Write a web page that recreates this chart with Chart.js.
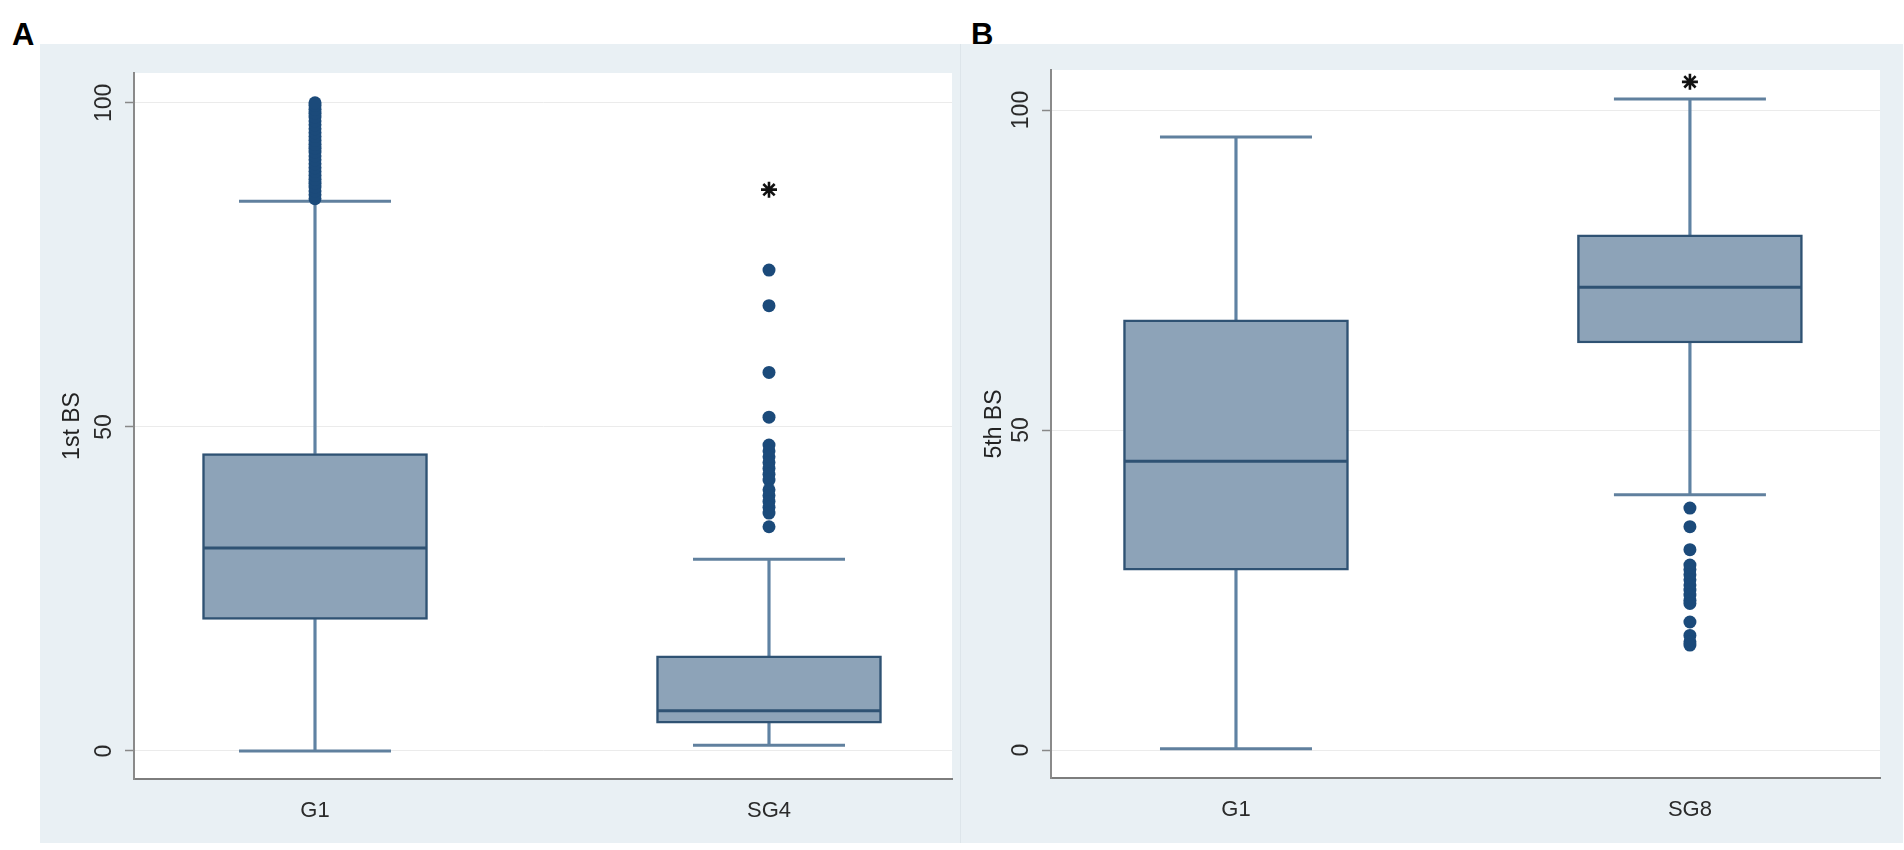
<!DOCTYPE html>
<html>
<head>
<meta charset="utf-8">
<title>1st BS / 5th BS box plots</title>
<script src="https://cdn.jsdelivr.net/npm/chart.js@4.4.1/dist/chart.umd.min.js"></script>
<style>
  html, body { margin: 0; padding: 0; }
  body { background: #fff; width: 1904px; height: 850px; position: relative; overflow: hidden; }
  .panel { position: absolute; top: 44px; height: 799px; background: #e9f0f4; }
  .panel canvas { position: absolute; left: 0; top: 0; display: block; }
  #panelA { left: 40px; width: 920px; }
  #panelB { left: 960px; width: 943px; border-left: 1px solid #dde5ea; box-sizing: border-box; }
  .letter { position: absolute; top: 17px; line-height: 1; font: bold 31px "Liberation Sans", Arial, sans-serif; color: #000; }
</style>
</head>
<body>
<div class="letter" style="left:12px">A</div>
<div class="letter" style="left:971px">B</div>
<div class="panel" id="panelA"><canvas id="chartA" width="920" height="799" style="width:920px;height:799px"></canvas></div>
<div class="panel" id="panelB"><canvas id="chartB" width="942" height="799" style="width:942px;height:799px"></canvas></div>
<script>
// panel A : 1st BS
const catsA = ['G1', 'SG4'];
const minA = [0, 0.9];
const q1A = [20.3, 4.3];
const medA = [31.3, 6.2];
const q3A = [45.9, 14.7];
const maxA = [84.8, 29.6];
const outG1A = [85.2, 85.8, 86.4, 87.0, 87.6, 88.2, 88.8, 89.4, 90.0, 90.6, 91.2, 91.8, 92.4,
  93.0, 93.6, 94.2, 94.8, 95.4, 96.0, 96.6, 97.2, 97.8, 98.4, 99.0, 99.6, 100];
const outSG4A = [74.2, 68.7, 58.4, 51.5, 47.2, 46.3, 45.4, 44.5, 43.6, 42.7, 41.8,
  40.3, 39.4, 38.5, 37.6, 36.7, 34.6];
const farA = [null, 86.6];

// panel B : 5th BS
const catsB = ['G1', 'SG8'];
const minB = [0.2, 39.9];
const q1B = [28.1, 63.6];
const medB = [45.1, 72.3];
const q3B = [67.2, 80.5];
const maxB = [95.8, 101.7];
const outG1B = [];
const outSG8B = [37.8, 34.9, 31.3, 28.9, 28.2, 27.4, 26.6, 25.8, 25.0, 24.2, 23.4, 22.9,
  20.0, 17.9, 16.9, 16.4];
const farB = [null, 104.4];

const yTicks = [0, 50, 100];

const FONT = '"Liberation Sans", Arial, sans-serif';
const boxFill = '#8da3b8';
const boxEdge = '#2f5273';
const whiskerCol = '#5f82a3';
const capCol = '#60809e';
const dotCol = '#1b4a7a';

const plotBg = {
  id: 'plotBg',
  beforeDraw(chart) {
    const { ctx, chartArea: a } = chart;
    ctx.save();
    ctx.fillStyle = '#fff';
    ctx.fillRect(a.left, a.top, a.right - a.left, a.bottom - a.top);
    ctx.restore();
  }
};

function pts(vals) {
  return vals.map((v, i) => ({ x: i + 1, y: v })).filter(p => p.y !== null);
}

function makeChart(id, cats, mins, q1s, meds, q3s, maxs, outs, fars, yTitle, lay) {
  const outliers = [];
  outs.forEach((list, i) => list.forEach(v => outliers.push({ x: i + 1, y: v })));

  new Chart(document.getElementById(id), {
    type: 'bar',
    data: {
      datasets: [
        { type: 'scatter', data: pts(fars), pointStyle: 'star', pointRadius: 8,
          borderColor: '#111', borderWidth: 2.6, order: 1 },
        { type: 'scatter', data: outliers, pointStyle: 'circle', pointRadius: 6.5,
          backgroundColor: dotCol, borderColor: dotCol, borderWidth: 0, order: 1 },
        { type: 'scatter', data: pts(meds), pointStyle: 'line', pointRadius: 112,
          borderColor: boxEdge, borderWidth: 3, order: 2 },
        { data: cats.map((c, i) => ({ x: i + 1, y: [q1s[i], q3s[i]] })),
          backgroundColor: boxFill, borderColor: boxEdge, borderWidth: 2.5,
          borderSkipped: false, barThickness: 225, grouped: false, order: 3 },
        { type: 'scatter', data: pts(mins).concat(pts(maxs)), pointStyle: 'line', pointRadius: 76,
          borderColor: capCol, borderWidth: 3, order: 4 },
        { data: cats.map((c, i) => ({ x: i + 1, y: [mins[i], q1s[i]] })),
          backgroundColor: whiskerCol, borderWidth: 0, barThickness: 2.5, grouped: false, order: 5 },
        { data: cats.map((c, i) => ({ x: i + 1, y: [q3s[i], maxs[i]] })),
          backgroundColor: whiskerCol, borderWidth: 0, barThickness: 2.5, grouped: false, order: 5 }
      ]
    },
    options: {
      responsive: false,
      devicePixelRatio: 1,
      animation: false,
      events: [],
      layout: { autoPadding: false, padding: { left: 0, top: lay.top, right: lay.right, bottom: lay.bottom } },
      plugins: { legend: { display: false }, tooltip: { enabled: false } },
      scales: {
        x: {
          type: 'linear',
          offset: false,
          min: lay.xMin,
          max: lay.xMax,
          afterBuildTicks: s => { s.ticks = [{ value: 1 }, { value: 2 }]; },
          afterFit: s => { s.height = 50; },
          grid: { display: false, offset: false },
          border: { display: true, color: '#7d7d7d', width: 2 },
          ticks: {
            padding: 11,
            color: '#2b2b2b',
            font: { family: FONT, size: 22 },
            callback: v => cats[v - 1]
          }
        },
        y: {
          min: lay.yMin,
          max: lay.yMax,
          afterBuildTicks: s => { s.ticks = yTicks.map(v => ({ value: v })); },
          afterFit: s => { s.width = lay.yWidth; },
          grid: { color: '#ebebeb', lineWidth: 1, tickLength: 9, tickColor: '#888', tickWidth: 1.5 },
          border: { display: true, color: '#8a8a8a', width: 2 },
          ticks: {
            minRotation: 90,
            maxRotation: 90,
            crossAlign: 'center',
            padding: 1,
            color: '#2b2b2b',
            font: { family: FONT, size: 23 }
          },
          title: {
            display: true,
            text: yTitle,
            color: '#222',
            font: { family: FONT, size: 23 },
            padding: { top: lay.titlePad, bottom: 0 }
          }
        }
      }
    },
    plugins: [plotBg]
  });
}

makeChart('chartA', catsA, minA, q1A, medA, q3A, maxA, [outG1A, outSG4A], farA, '1st BS',
  { top: 29, right: 8, bottom: 14, yWidth: 94, titlePad: 19, xMin: 0.6013, xMax: 2.4031, yMin: -4.32, yMax: 104.6 });
makeChart('chartB', catsB, minB, q1B, medB, q3B, maxB, [outG1B, outSG8B], farB, '5th BS',
  { top: 26, right: 23, bottom: 15, yWidth: 90, titlePad: 20, xMin: 0.5925, xMax: 2.4187, yMin: -4.375, yMax: 106.25 });
</script>
</body>
</html>
